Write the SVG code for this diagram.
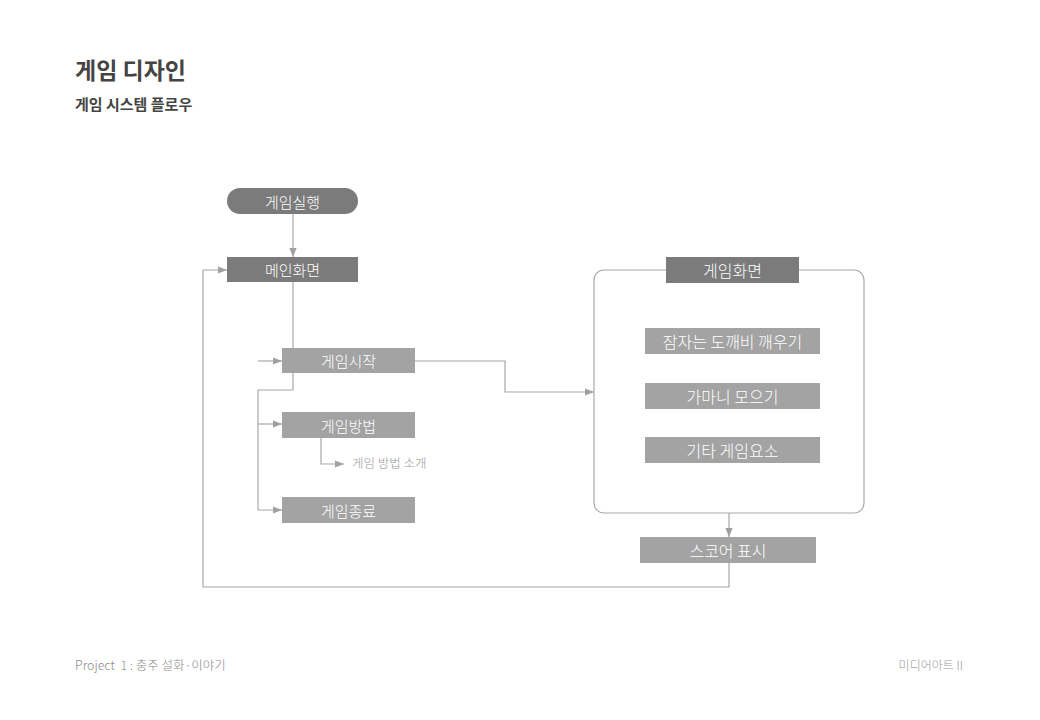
<svg xmlns="http://www.w3.org/2000/svg" width="1040" height="720" viewBox="0 0 1040 720">
<defs>
<style>
text{font-family:"Noto Sans CJK KR","Noto Sans",sans-serif}
.dark{fill:#7b7b7b}
.light{fill:#a3a3a3}
.lbl{fill:#ffffff;font-size:15px;font-weight:300;text-anchor:middle;dominant-baseline:central}
.lbl2{fill:#ffffff;font-size:16px;font-weight:300;text-anchor:middle;dominant-baseline:central}
.ln{fill:none;stroke:#a8a8a8;stroke-width:1.2}
.cont{fill:none;stroke:#aaaaaa;stroke-width:1.2}
</style>
<marker id="ah" viewBox="0 0 10 10" refX="10" refY="5" markerWidth="9" markerHeight="9" markerUnits="userSpaceOnUse" orient="auto">
<path d="M0,1 L10,5 L0,9 z" fill="#a0a0a0"/>
</marker>
</defs>
<rect width="1040" height="720" fill="#ffffff"/>
<text x="75" y="79" font-size="23" font-weight="700" fill="#444444">게임 디자인</text>
<text x="75" y="110" font-size="15" font-weight="700" fill="#444444">게임 시스템 플로우</text>

<g id="connectors">
<path class="ln" d="M293,214 L293,257" marker-end="url(#ah)"/>
<path class="ln" d="M293,282 L293,348"/>
<path class="ln" d="M258,361 L282,361" marker-end="url(#ah)"/>
<path class="ln" d="M293,373 L293,390 L258,390 L258,510 L282,510" marker-end="url(#ah)"/>
<path class="ln" d="M258,424 L282,424" marker-end="url(#ah)"/>
<path class="ln" d="M321,438 L321,464 L344,464" marker-end="url(#ah)"/>
<path class="ln" d="M415,361 L505,361 L505,392 L594,392" marker-end="url(#ah)"/>
<path class="ln" d="M729,513 L729,537" marker-end="url(#ah)"/>
<path class="ln" d="M729,563 L729,587 L203,587 L203,270 L227,270" marker-end="url(#ah)"/>
</g>

<g id="n-run"><rect class="dark" x="227" y="188" width="131" height="26" rx="13"/><text class="lbl" x="292.5" y="201">게임실행</text></g>
<g id="n-main"><rect class="dark" x="227" y="257" width="131" height="25"/><text class="lbl" x="292.5" y="269.5">메인화면</text></g>
<g id="n-start"><rect class="light" x="282" y="348" width="133" height="25"/><text class="lbl" x="348.5" y="360.5">게임시작</text></g>
<g id="n-howto"><rect class="light" x="282" y="412" width="133" height="26"/><text class="lbl" x="348.5" y="425">게임방법</text></g>
<g id="n-howto-desc"><text x="352" y="468" font-size="12.5" font-weight="300" fill="#999999">게임 방법 소개</text></g>
<g id="n-exit"><rect class="light" x="282" y="497" width="133" height="26"/><text class="lbl" x="348.5" y="510">게임종료</text></g>

<g id="n-gamescreen">
<rect class="cont" x="594" y="270" width="270" height="243" rx="10"/>
<rect class="dark" x="666" y="257" width="133" height="26"/><text class="lbl2" x="732.5" y="270">게임화면</text>
</g>
<g id="n-wake"><rect class="light" x="645" y="328" width="175" height="26"/><text class="lbl2" x="732.5" y="341">잠자는 도깨비 깨우기</text></g>
<g id="n-collect"><rect class="light" x="645" y="383" width="175" height="26"/><text class="lbl2" x="732.5" y="396">가마니 모으기</text></g>
<g id="n-etc"><rect class="light" x="645" y="437" width="175" height="26"/><text class="lbl2" x="732.5" y="450">기타 게임요소</text></g>
<g id="n-score"><rect class="light" x="640" y="537" width="176" height="26"/><text class="lbl2" x="728" y="550">스코어 표시</text></g>

<text x="75" y="670" font-size="12.5" font-weight="300" fill="#8a8a8a" xml:space="preserve">Project  1 : 충주 설화·이야기</text>
<text x="963" y="670" font-size="12" font-weight="300" fill="#9a9a9a" text-anchor="end">미디어아트 II</text>
</svg>
